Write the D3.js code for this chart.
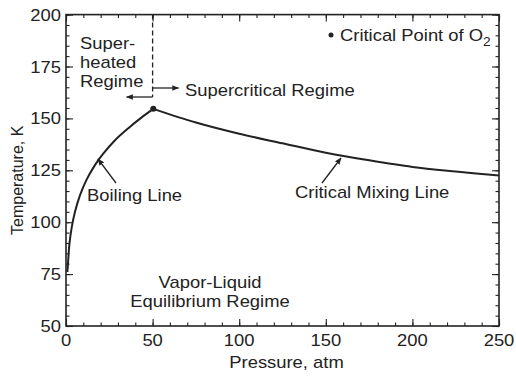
<!DOCTYPE html>
<html>
<head>
<meta charset="utf-8">
<script src="https://cdn.jsdelivr.net/npm/d3@7"></script>
<style>
  body { margin: 0; background: #fff; }
  text { font-family: "Liberation Sans", Arial, sans-serif; fill: #222; }
</style>
</head>
<body>
<script>
// boiling line: pressure (atm) vs temperature (K)
const boilP = [0.8, 1.3, 1.9, 3.3, 5.2, 8.1, 11.9, 16.7, 21.5, 28.3, 36, 43.7, 50.4];
const boilT = [76, 82, 89, 97.5, 105, 113, 120.5, 127.5, 133, 139.5, 145.3, 150.5, 154.6];
// critical mixing line
const mixP = [50.4, 75, 100, 125, 150, 175, 200, 225, 250];
const mixT = [154.6, 148, 142.6, 138, 133.5, 129.8, 126.6, 124.4, 122.5];
const critical = [50.4, 154.6];
const xTicks = [0, 50, 100, 150, 200, 250];
const yTicks = [50, 75, 100, 125, 150, 175, 200];

const width = 516, height = 380;
const plotL = 66, plotR = 499, plotT = 14.6, plotB = 326;
const sx = 1.15; // the scanned lettering is stretched horizontally

const svg = d3.select("body").append("svg")
    .attr("width", width)
    .attr("height", height);

const x = d3.scaleLinear().domain([0, 250]).range([plotL, plotR]);
const y = d3.scaleLinear().domain([50, 200]).range([plotB, plotT]);

const ink = "#222";

function label(px, py, str, anchor, size) {
    const g = svg.append("g").attr("transform", `translate(${px},${py}) scale(${sx},1)`);
    return g.append("text")
        .attr("text-anchor", anchor || "start")
        .attr("font-size", size || 16)
        .text(str);
}

// axes with inward ticks on all four sides
const minorX = d3.range(0, 251, 10);
const minorY = d3.range(50, 201, 5);

function tickAxis(axis, pos) {
    const g = svg.append("g").attr("transform", pos).call(axis);
    g.select(".domain").remove();
    g.selectAll("line").attr("stroke", ink).attr("stroke-width", 1.1);
    g.selectAll("text").remove();
    return g;
}
tickAxis(d3.axisBottom(x).tickValues(minorX).tickSize(-3.5), `translate(0,${plotB})`);
tickAxis(d3.axisBottom(x).tickValues(xTicks).tickSize(-7), `translate(0,${plotB})`);
tickAxis(d3.axisTop(x).tickValues(minorX).tickSize(-3.5), `translate(0,${plotT})`);
tickAxis(d3.axisTop(x).tickValues(xTicks).tickSize(-7), `translate(0,${plotT})`);
tickAxis(d3.axisLeft(y).tickValues(minorY).tickSize(-3.5), `translate(${plotL},0)`);
tickAxis(d3.axisLeft(y).tickValues(yTicks).tickSize(-7), `translate(${plotL},0)`);
tickAxis(d3.axisRight(y).tickValues(minorY).tickSize(-3.5), `translate(${plotR},0)`);
tickAxis(d3.axisRight(y).tickValues(yTicks).tickSize(-7), `translate(${plotR},0)`);

svg.append("rect")
    .attr("x", plotL).attr("y", plotT)
    .attr("width", plotR - plotL).attr("height", plotB - plotT)
    .attr("fill", "none").attr("stroke", ink).attr("stroke-width", 1.6);

// tick labels
xTicks.forEach(v => label(x(v), plotB + 20, v, "middle"));
yTicks.forEach(v => label(plotL - 5, y(v) + 6, v, "end"));

// axis titles
label((plotL + plotR) / 2 + 4, 368, "Pressure, atm", "middle");
svg.append("text")
    .attr("transform", `translate(23,${(plotT + plotB) / 2 + 10}) rotate(-90)`)
    .attr("text-anchor", "middle")
    .attr("font-size", 16)
    .text("Temperature, K");

// curves
const boil = boilP.map((p, i) => [p, boilT[i]]);
const mix = mixP.map((p, i) => [p, mixT[i]]);
const line = d3.line().x(d => x(d[0])).y(d => y(d[1])).curve(d3.curveCatmullRom.alpha(0.5));

svg.append("path").datum(boil)
    .attr("d", line)
    .attr("fill", "none").attr("stroke", ink).attr("stroke-width", 2);
svg.append("path").datum(mix)
    .attr("d", line)
    .attr("fill", "none").attr("stroke", ink).attr("stroke-width", 2);

svg.append("circle")
    .attr("cx", x(critical[0])).attr("cy", y(critical[1]))
    .attr("r", 3).attr("fill", ink);

// arrowhead marker
svg.append("defs").append("marker")
    .attr("id", "head")
    .attr("viewBox", "0 0 10 10")
    .attr("refX", 9).attr("refY", 5)
    .attr("markerWidth", 7).attr("markerHeight", 7)
    .attr("markerUnits", "userSpaceOnUse")
    .attr("orient", "auto")
    .append("path").attr("d", "M0,1 L10,5 L0,9 Z").attr("fill", ink);

function arrow(x1, y1, x2, y2) {
    svg.append("line")
        .attr("x1", x1).attr("y1", y1).attr("x2", x2).attr("y2", y2)
        .attr("stroke", ink).attr("stroke-width", 1.3)
        .attr("marker-end", "url(#head)");
}

// dashed separator at critical pressure
const xc = x(50);
svg.append("line")
    .attr("x1", xc).attr("x2", xc).attr("y1", plotT).attr("y2", 97)
    .attr("stroke", ink).attr("stroke-width", 1.3)
    .attr("stroke-dasharray", "5,3");
arrow(xc, 88, xc + 26, 88);
arrow(xc, 97, xc - 26, 97);

// annotations
label(80, 49, "Super-");
label(80, 68, "heated");
label(80, 87, "Regime");
label(185, 96, "Supercritical Regime");

label(87, 201, "Boiling Line");
arrow(116, 183, 98, 159);

label(295, 198, "Critical Mixing Line");
arrow(322, 183, 341, 158);

label(210, 288, "Vapor-Liquid", "middle");
label(210, 307, "Equilibrium Regime", "middle");

svg.append("circle").attr("cx", 331).attr("cy", 35).attr("r", 2.5).attr("fill", ink);
const cp = label(340, 41, "Critical Point of O");
cp.append("tspan").attr("dy", 5).attr("font-size", 12).text("2");
</script>
</body>
</html>
